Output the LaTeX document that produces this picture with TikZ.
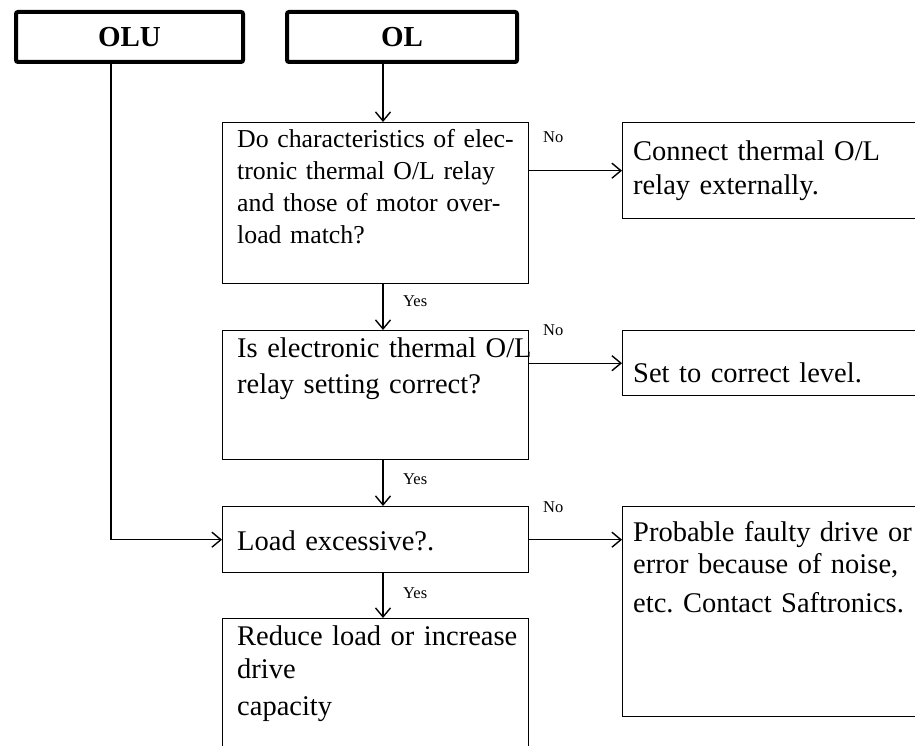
\documentclass[tikz,border=0pt]{standalone}
\usepackage{fontspec}
\setmainfont{Liberation Serif}
\usetikzlibrary{arrows.meta}
\frenchspacing
\begin{document}
\begin{tikzpicture}[x=1pt,y=-1pt,
  box/.style={draw, line width=1.4pt, anchor=north west, inner sep=0pt},
  topbox/.style={draw, line width=4pt, rounded corners=2pt, anchor=north west, inner sep=0pt,
    font=\fontsize{29}{32}\selectfont\bfseries},
  txt/.style={anchor=base west, inner sep=0pt, align=left, text width=#1},
  bigtxt/.style={txt=#1, font=\fontsize{28.5}{36}\selectfont},
  smalltxt/.style={txt=#1, font=\fontsize{25.8}{31.7}\selectfont},
  arr/.style={line width=1.4pt, -{Straight Barb[length=9pt,width=15pt]}},
  lbl/.style={anchor=base west, inner sep=0pt, font=\fontsize{16.5}{18}\selectfont},
]
\useasboundingbox (0,0) rectangle (915,746);
\clip (0,0) rectangle (915,746);

% top boxes
\node[topbox, minimum width=227pt, minimum height=50pt] (olu) at (14,10) {OLU};
\node[topbox, minimum width=230pt, minimum height=50pt] (ol) at (285,10) {OL};

% main column boxes
\node[box, minimum width=306pt, minimum height=161pt] (b1) at (222,122) {};
\node[box, minimum width=306pt, minimum height=129pt] (b2) at (222,330) {};
\node[box, minimum width=306pt, minimum height=66pt]  (b3) at (222,506) {};
\node[box, minimum width=306pt, minimum height=150pt] (b4) at (222,618) {};

% right column boxes
\node[box, minimum width=330pt, minimum height=96pt]  (r1) at (622,122) {};
\node[box, minimum width=330pt, minimum height=65pt]  (r2) at (622,330) {};
\node[box, minimum width=330pt, minimum height=210pt] (r3) at (622,506) {};

% texts
\node[smalltxt=295pt] (t1) at (237,148) {Do characteristics of elec-\\tronic thermal O/L relay\\and those of motor over-\\load match?};
\node[bigtxt=300pt] (t2) at (237,357) {Is electronic thermal O/L\\relay setting correct?};
\node[bigtxt=300pt] (t3) at (237,550) {Load excessive?.};
\node[bigtxt=300pt, font=\fontsize{28.5}{33}\selectfont] (t4) at (237,645) {Reduce load or increase\\drive\\[4pt]capacity};
\node[bigtxt=300pt, font=\fontsize{28.5}{34}\selectfont] (tr1) at (633,161) {Connect thermal O/L\\relay externally.};
\node[bigtxt=300pt] (tr2) at (633,382) {Set to correct level.};
\node[bigtxt=300pt, font=\fontsize{28.5}{32}\selectfont] (tr3) at (633,541) {Probable faulty drive or\\error because of noise,\\[7pt]etc. Contact Saftronics.};

% guide coordinates
\coordinate (cx) at (383,0);
\coordinate (cu) at (111,0);

% connectors
\draw[arr] (ol.south -| cx) -- (b1.north -| cx);
\draw[arr] (b1.south -| cx) -- (b2.north -| cx);
\draw[arr] (b2.south -| cx) -- (b3.north -| cx);
\draw[arr] (b3.south -| cx) -- (b4.north -| cx);
\draw[arr] (olu.south -| cu) |- (b3.west);
\draw[arr] (b1.east |- r1.west) -- (r1.west);
\draw[arr] (b2.east |- r2.west) -- (r2.west);
\draw[arr] (b3.east) -- (b3.east -| r3.west);

% labels
\node[lbl] (n1) at (543,143) {No};
\node[lbl] (n2) at (543,335) {No};
\node[lbl] (n3) at (543,512) {No};
\node[lbl] (y1) at (403,306) {Yes};
\node[lbl] (y2) at (403,484) {Yes};
\node[lbl] (y3) at (403,598) {Yes};
\end{tikzpicture}
\end{document}
